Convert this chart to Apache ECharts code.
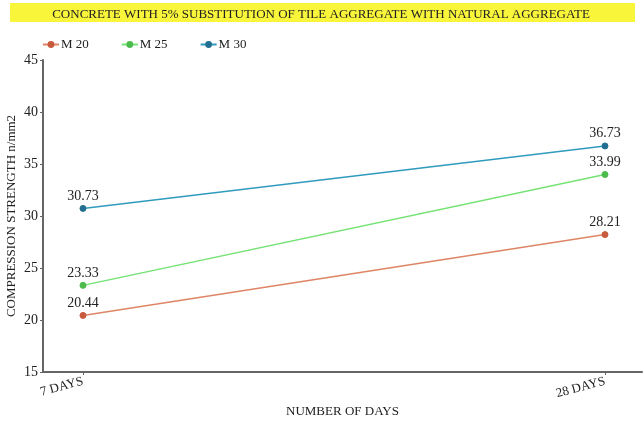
<!DOCTYPE html>
<html>
<head>
<meta charset="utf-8">
<script src="https://cdn.jsdelivr.net/npm/echarts@6/dist/echarts.min.js"></script>
<style>
  html, body { margin: 0; padding: 0; background: #fff; }
  #chart { width: 643px; height: 423px; }
</style>
</head>
<body>
<div id="chart"></div>
<script>
// Compressive strength of concrete with 5% tile aggregate substitution
const categories = ['7 DAYS', '28 DAYS'];
const m20 = [20.44, 28.21];
const m25 = [23.33, 33.99];
const m30 = [30.73, 36.73];
const yTicks = [15, 20, 25, 30, 35, 40, 45];

const serif = '"Liberation Serif", "DejaVu Serif", serif';

function makeSeries(name, values, lineColor, dotColor) {
  return {
    name: name,
    type: 'line',
    data: values.map((v, i) => [i, v]),
    symbol: 'circle',
    symbolSize: 6,
    lineStyle: { color: lineColor, width: 1.5 },
    itemStyle: { color: dotColor, borderColor: dotColor, borderWidth: 1 },
    label: {
      show: true,
      position: 'top',
      distance: 2,
      formatter: p => p.value[1].toFixed(2),
      fontFamily: serif,
      fontSize: 14,
      color: '#222'
    },
    emphasis: { disabled: true }
  };
}

const chart = echarts.init(document.getElementById('chart'), null, { renderer: 'canvas' });
chart.setOption({
  animation: false,
  backgroundColor: '#fff',
  graphic: [{
    type: 'rect',
    shape: { x: 10, y: 3, width: 625, height: 19 },
    style: { fill: '#f8f53a' },
    z: -1
  }],
  title: {
    text: 'CONCRETE WITH 5% SUBSTITUTION OF TILE AGGREGATE WITH NATURAL AGGREGATE',
    left: 316,
    textAlign: 'center',
    top: 3,
    textStyle: { fontFamily: serif, fontSize: 13, fontWeight: 'normal', color: '#222' }
  },
  legend: {
    left: 37,
    top: 33,
    itemGap: 32,
    itemWidth: 16,
    itemHeight: 6,
    textStyle: { fontFamily: serif, fontSize: 13, color: '#222', padding: [0, 0, 0, -3] },
    data: ['M 20', 'M 25', 'M 30']
  },
  grid: { left: 43, right: 1, top: 60, bottom: 51, outerBoundsMode: 'none', containLabel: false },
  xAxis: {
    type: 'value',
    min: -0.0766,
    max: 1.0709,
    name: 'NUMBER OF DAYS',
    nameLocation: 'middle',
    nameGap: 33,
    nameMoveOverlap: false,
    nameTextStyle: { fontFamily: serif, fontSize: 13, color: '#222' },
    splitLine: { show: false },
    axisLine: { show: true, onZero: false, lineStyle: { color: '#666', width: 2 } },
    axisTick: { show: true, customValues: [0, 1], length: 3, lineStyle: { color: '#666' } },
    axisLabel: {
      customValues: [0, 1],
      formatter: v => categories[Math.round(v)],
      rotate: 15,
      margin: 9,
      fontFamily: serif,
      fontSize: 13,
      color: '#222'
    }
  },
  yAxis: {
    type: 'value',
    min: yTicks[0],
    max: yTicks[yTicks.length - 1],
    interval: 5,
    name: 'COMPRESSION STRENGTH n/mm2',
    nameLocation: 'middle',
    nameGap: 25,
    nameMoveOverlap: false,
    nameTextStyle: { fontFamily: serif, fontSize: 13, color: '#222' },
    splitLine: { show: false },
    axisLine: { show: true, onZero: false, lineStyle: { color: '#666', width: 2 } },
    axisTick: { show: true, length: 3, lineStyle: { color: '#666' } },
    axisLabel: { fontFamily: serif, fontSize: 14, color: '#222', margin: 5 }
  },
  series: [
    makeSeries('M 20', m20, '#df8566', '#c85a3e'),
    makeSeries('M 25', m25, '#74e374', '#4cbb4c'),
    makeSeries('M 30', m30, '#2f9bbd', '#236f91')
  ]
});
</script>
</body>
</html>
